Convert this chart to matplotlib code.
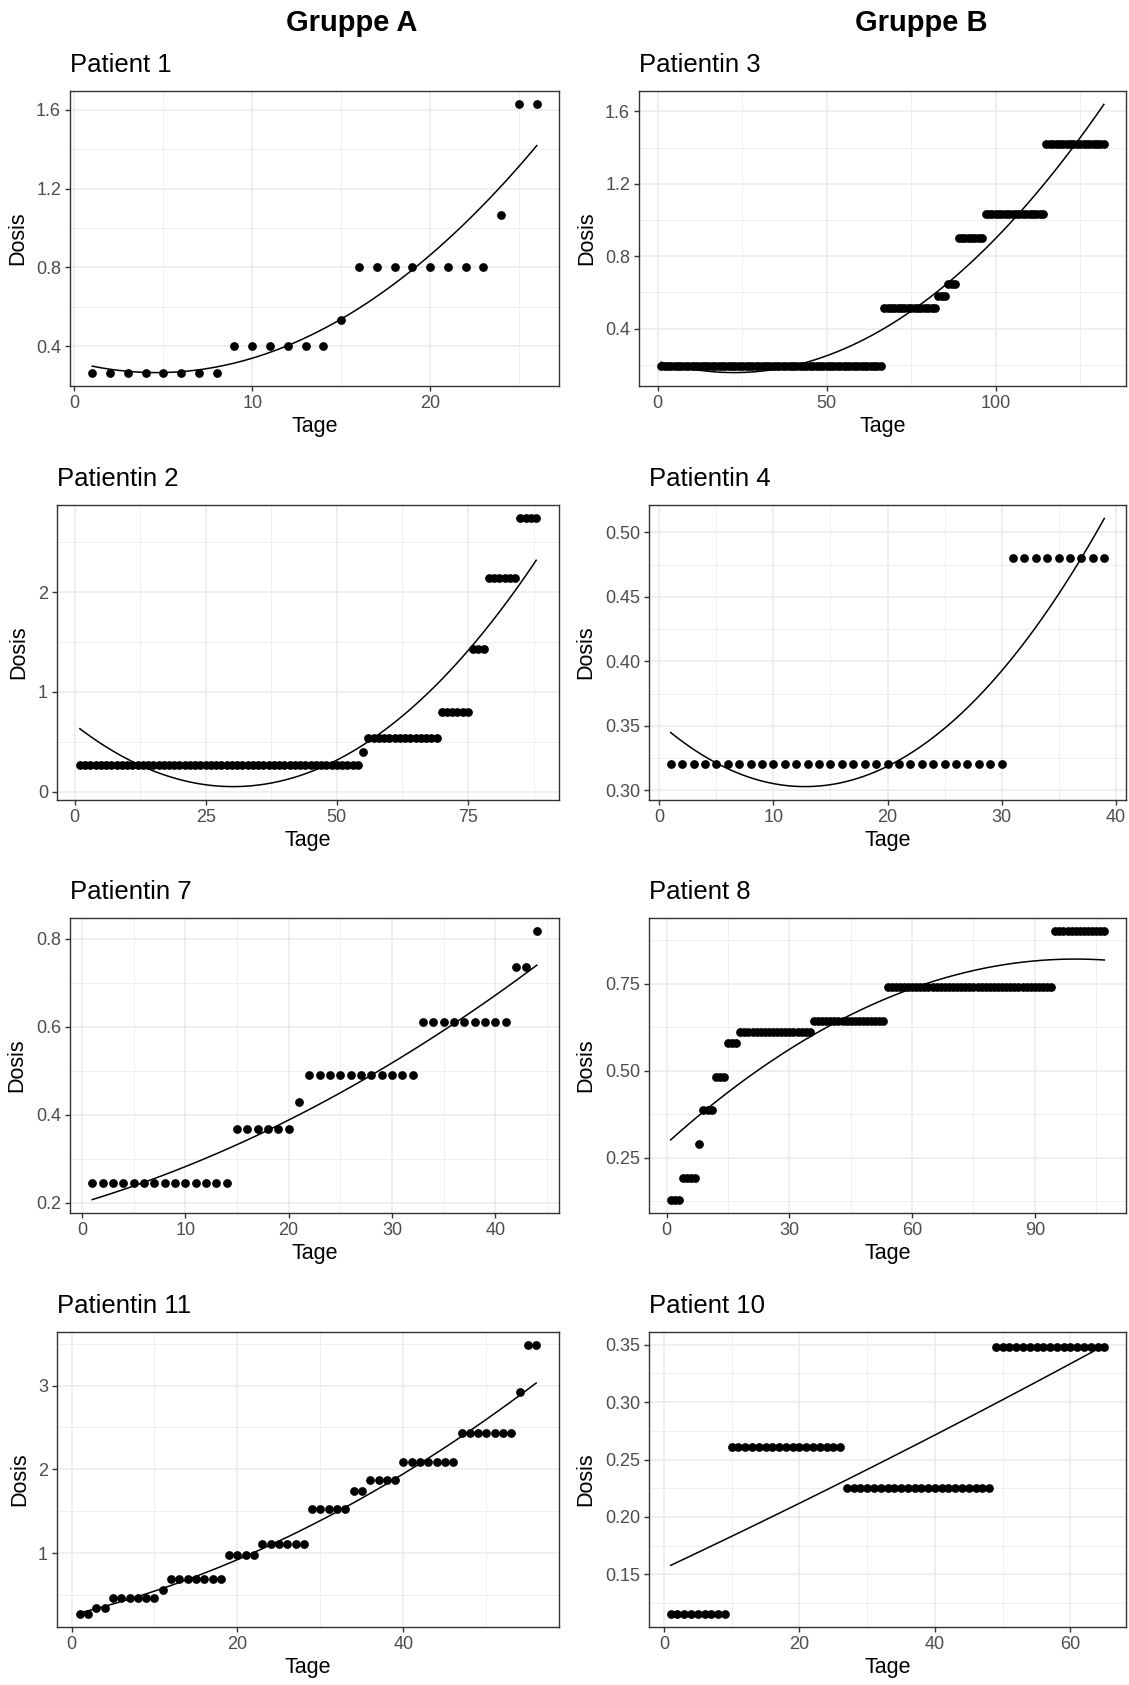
import numpy as np
import matplotlib
matplotlib.use("Agg")
from matplotlib import pyplot as plt
from matplotlib.ticker import AutoMinorLocator

plt.rcParams['font.family'] = ['Liberation Sans', 'DejaVu Sans']

# dose steps per patient: dose level and number of consecutive days at it
p1_dose = [0.267, 0.40, 0.533, 0.80, 1.067, 1.627]
p1_days = [8, 6, 1, 8, 1, 2]

p3_dose = [0.193, 0.514, 0.582, 0.644, 0.903, 1.033, 1.418]
p3_days = [66, 16, 3, 3, 8, 18, 18]

p2_dose = [0.267, 0.40, 0.533, 0.80, 1.43, 2.14, 2.74]
p2_days = [54, 1, 14, 6, 3, 6, 4]

p4_dose = [0.32, 0.48]
p4_days = [30, 9]

p7_dose = [0.245, 0.368, 0.43, 0.49, 0.612, 0.735, 0.817]
p7_days = [14, 6, 1, 11, 9, 2, 1]

p8_dose = [0.129, 0.1925, 0.29, 0.386, 0.483, 0.579, 0.611, 0.643, 0.741, 0.901]
p8_days = [3, 4, 1, 3, 3, 3, 18, 18, 41, 13]

p11_dose = [0.278, 0.35, 0.468, 0.56, 0.694, 0.976, 1.111, 1.532, 1.742,
            1.877, 2.087, 2.433, 2.929, 3.48]
p11_days = [2, 2, 6, 1, 7, 4, 6, 5, 2, 4, 7, 7, 1, 2]

p10_dose = [0.1158, 0.2607, 0.2254, 0.3477]
p10_days = [9, 17, 22, 17]

# tick breaks
p1_xt, p1_yt = [0, 10, 20], [0.4, 0.8, 1.2, 1.6]
p3_xt, p3_yt = [0, 50, 100], [0.4, 0.8, 1.2, 1.6]
p2_xt, p2_yt = [0, 25, 50, 75], [0, 1, 2]
p4_xt, p4_yt = [0, 10, 20, 30, 40], [0.30, 0.35, 0.40, 0.45, 0.50]
p7_xt, p7_yt = [0, 10, 20, 30, 40], [0.2, 0.4, 0.6, 0.8]
p8_xt, p8_yt = [0, 30, 60, 90], [0.25, 0.50, 0.75]
p11_xt, p11_yt = [0, 20, 40], [1, 2, 3]
p10_xt, p10_yt = [0, 20, 40, 60], [0.15, 0.20, 0.25, 0.30, 0.35]

W, H = 1129, 1685
fig = plt.figure(figsize=(W/100, H/100), dpi=100)


def box(l, t, r, b):
    return [l/W, 1 - b/H, (r - l)/W, (b - t)/H]


def panel(rect, title, dose, days, xt, yt, ydec):
    ax = fig.add_axes(box(*rect))
    x = np.arange(1, sum(days) + 1)
    y = np.repeat(dose, days)
    # quadratic trend line
    coef = np.polyfit(x, y, 2)
    xs = np.linspace(x.min(), x.max(), 80)
    ax.plot(x, y, 'o', color='black', ms=6.3, mew=0, zorder=3)
    ax.plot(xs, np.polyval(coef, xs), color='black', lw=1.1, zorder=4)
    ax.margins(0.05)
    ax.set_xticks(xt)
    ax.set_yticks(yt)
    ax.set_yticklabels([f"{v:.{ydec}f}" for v in yt])
    ax.xaxis.set_minor_locator(AutoMinorLocator(2))
    ax.yaxis.set_minor_locator(AutoMinorLocator(2))
    ax.grid(which='major', color='#EBEBEB', lw=1.1, zorder=0)
    ax.grid(which='minor', color='#EBEBEB', lw=0.55, zorder=0)
    ax.set_axisbelow(True)
    for s in ax.spines.values():
        s.set_color('#333333')
        s.set_linewidth(1.0)
    ax.tick_params(which='major', length=3.4, width=1.0, color='#333333',
                   labelsize=13, labelcolor='#4D4D4D', pad=3)
    ax.tick_params(which='minor', length=0)
    ax.set_xlabel('Tage', fontsize=15.5, labelpad=3)
    ax.set_ylabel('Dosis', fontsize=15.5, labelpad=6)
    ax.set_title(title, loc='left', fontsize=18.5, pad=14)
    return ax


panel((70, 91, 559, 386), 'Patient 1', p1_dose, p1_days, p1_xt, p1_yt, 1)
panel((639, 91, 1126, 386), 'Patientin 3', p3_dose, p3_days, p3_xt, p3_yt, 1)
panel((57, 505, 559, 800), 'Patientin 2', p2_dose, p2_days, p2_xt, p2_yt, 0)
panel((649, 505, 1126, 800), 'Patientin 4', p4_dose, p4_days, p4_xt, p4_yt, 2)
panel((70, 918, 559, 1213), 'Patientin 7', p7_dose, p7_days, p7_xt, p7_yt, 1)
panel((649, 918, 1126, 1213), 'Patient 8', p8_dose, p8_days, p8_xt, p8_yt, 2)
panel((57, 1332, 559, 1627), 'Patientin 11', p11_dose, p11_days, p11_xt, p11_yt, 0)
panel((649, 1332, 1126, 1627), 'Patient 10', p10_dose, p10_days, p10_xt, p10_yt, 2)

fig.text(352/W, 1 - 23/H, 'Gruppe A', ha='center', va='center',
         fontsize=21, fontweight='bold')
fig.text(921/W, 1 - 23/H, 'Gruppe B', ha='center', va='center',
         fontsize=21, fontweight='bold')

fig.savefig('out.png', dpi=100, facecolor='white')
